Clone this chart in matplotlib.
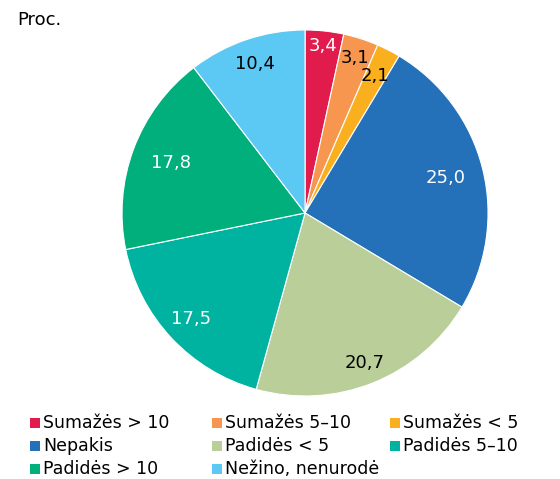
import matplotlib
matplotlib.use("Agg")
import matplotlib.pyplot as plt
from matplotlib.patches import Rectangle
import numpy as np

categories = ["Sumažės > 10", "Sumažės 5–10", "Sumažės < 5", "Nepakis",
              "Padidės < 5", "Padidės 5–10", "Padidės > 10", "Nežino, nenurodė"]
values = [3.4, 3.1, 2.1, 25.0, 20.7, 17.5, 17.8, 10.4]
value_labels = ["3,4", "3,1", "2,1", "25,0", "20,7", "17,5", "17,8", "10,4"]
colors = ["#E11B4B", "#F7964F", "#FAAF1E", "#2470B9", "#BACE99", "#00B3A0", "#00AF7B", "#5CC8F4"]
label_colors = ["white", "black", "black", "white", "black", "white", "white", "black"]
label_radius = [0.92, 0.89, 0.84, 0.79, 0.88, 0.85, 0.78, 0.86]

plt.rcParams['font.family'] = ['DejaVu Sans']
fig = plt.figure(figsize=(5.6, 4.79), dpi=100)
ax = fig.add_axes([0.2179, 0.1733, 0.6536, 0.7641])
wedges, _ = ax.pie(values, colors=colors, startangle=90, counterclock=False, radius=1.0,
                   wedgeprops=dict(edgecolor="white", linewidth=0.8))
ax.set_xlim(-1, 1)
ax.set_ylim(-1, 1)
ax.set_aspect("equal")
ax.axis("off")

for w, lab, c, r in zip(wedges, value_labels, label_colors, label_radius):
    ang = np.deg2rad((w.theta1 + w.theta2) / 2)
    ax.text(r * np.cos(ang), r * np.sin(ang), lab, ha="center", va="center",
            fontsize=13, color=c)

fig.text(17 / 560, 1 - 20 / 479, "Proc.", fontsize=13, ha="left", va="center")

col_x = [30, 212, 390]
row_y = [423, 446, 469]
W, H = 560, 479
for i, (cat, col) in enumerate(zip(categories, colors)):
    r, cidx = divmod(i, 3)
    x = col_x[cidx]
    y = row_y[r]
    fig.patches.append(Rectangle((x / W, 1 - (y + 5) / H), 10 / W, 10 / H,
                                 transform=fig.transFigure, facecolor=col, edgecolor="none"))
    fig.text((x + 13) / W, 1 - y / H, cat, fontsize=12.5, ha="left", va="center")

fig.savefig("out.png", dpi=100)
